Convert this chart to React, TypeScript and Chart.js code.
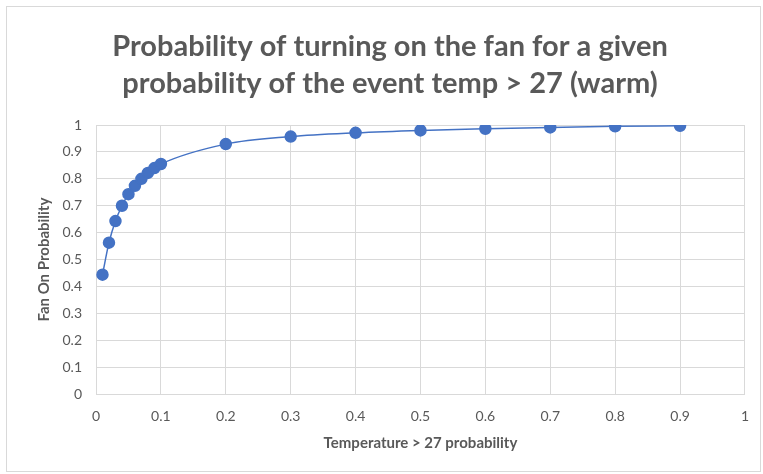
import React, { useEffect, useRef } from "react";
import { Chart, registerables } from "chart.js";

Chart.register(...registerables);

const tempProb: number[] = [0.01, 0.02, 0.03, 0.04, 0.05, 0.06, 0.07, 0.08, 0.09, 0.1, 0.2, 0.3, 0.4, 0.5, 0.6, 0.7, 0.8, 0.9];
const fanOnProb: number[] = [0.444, 0.563, 0.643, 0.7, 0.743, 0.774, 0.8, 0.822, 0.84, 0.855, 0.929, 0.957, 0.971, 0.98, 0.986, 0.991, 0.995, 0.997];
const titleLines: string[] = ["Probability of turning on the fan for a given", "probability of the event temp > 27 (warm)"];
const xTitle = "Temperature > 27 probability";
const yTitle = "Fan On Probability";

const FONT = "Lato, 'Open Sans', sans-serif";
const TEXT = "#595959";

const fmt = (v: number | string) => String(Number(Number(v).toFixed(1)));

export default function App() {
  const ref = useRef<HTMLCanvasElement | null>(null);
  useEffect(() => {
    if (!ref.current) return;
    const chart = new Chart(ref.current, {
      type: "scatter",
      data: {
        datasets: [
          {
            data: tempProb.map((x, i) => ({ x, y: fanOnProb[i] })),
            showLine: true,
            borderColor: "#4472C4",
            backgroundColor: "#4472C4",
            borderWidth: 1.5,
            pointRadius: 5.5,
            pointHoverRadius: 5.5,
            cubicInterpolationMode: "monotone",
          },
        ],
      },
      options: {
        animation: false,
        responsive: true,
        maintainAspectRatio: false,
        layout: { padding: { left: 31, right: 14, bottom: 18, top: 0 } },
        plugins: {
          legend: { display: false },
          tooltip: { enabled: false },
          title: {
            display: true,
            text: titleLines,
            color: TEXT,
            font: { family: FONT, size: 29, weight: "bold", lineHeight: 1.25 },
            padding: { top: 29, bottom: 23.5 },
          },
        },
        scales: {
          x: {
            type: "linear",
            min: 0,
            max: 1,
            ticks: { stepSize: 0.1, color: TEXT, font: { family: FONT, size: 14 }, padding: 14, callback: (v: any) => fmt(v) },
            grid: { color: "#D9D9D9", drawTicks: false },
            border: { color: "#D9D9D9" },
            title: { display: true, text: xTitle, color: TEXT, font: { family: FONT, size: 15, weight: "bold" }, padding: { top: -5 } },
          },
          y: {
            type: "linear",
            min: 0,
            max: 1,
            ticks: { stepSize: 0.1, color: TEXT, font: { family: FONT, size: 14 }, padding: 14, callback: (v: any) => fmt(v) },
            grid: { color: "#D9D9D9", drawTicks: false },
            border: { color: "#D9D9D9" },
            title: { display: true, text: yTitle, color: TEXT, font: { family: FONT, size: 15, weight: "bold" }, padding: { bottom: 4 } },
            afterFit: (scale: any) => {
              scale.width = 65;
            },
          },
        },
      },
    });
    return () => chart.destroy();
  }, []);
  return (
    <div style={{ position: "fixed", left: 0, top: 0, width: 763, height: 474, background: "#fff" }}>
      <div style={{ position: "absolute", left: 6, top: 6, right: 2, bottom: 2, border: "1px solid #D9D9D9" }} />
      <canvas ref={ref} />
    </div>
  );
}
